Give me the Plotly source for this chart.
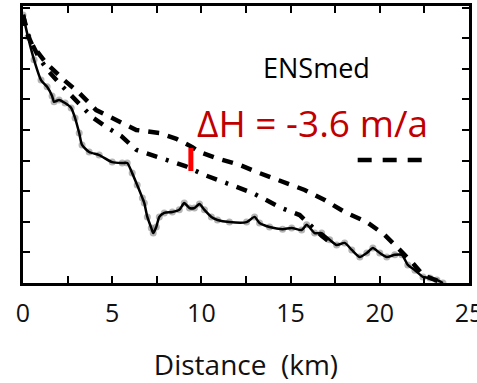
import plotly.graph_objects as go

# Surface profiles along the flowline: distance (km) vs. elevation (axis units)
obs_km = [0.0, 0.28, 0.62, 1.01, 1.35, 1.63, 1.74, 2.02, 2.36, 2.70, 2.92, 3.15, 3.31, 3.71,
          4.27, 5.0, 5.56, 5.84, 6.12, 6.40, 6.69, 6.80, 6.97, 7.19, 7.30, 7.47, 7.64, 7.92,
          8.37, 8.76, 9.04, 9.33, 9.61, 9.89, 10.17, 10.56, 10.90, 11.57, 12.53, 12.98, 13.26,
          13.82, 14.55, 15.06, 15.62, 15.90, 16.35, 16.74, 17.19, 17.58, 18.03, 18.43, 18.88,
          19.27, 19.61, 20.0, 20.39, 20.84, 21.24, 21.57, 21.97, 22.42, 22.81, 23.20, 23.54]
obs_h = [8.76, 8.04, 7.29, 6.63, 6.41, 6.11, 5.92, 5.98, 5.88, 5.72, 5.39, 4.90, 4.51, 4.28,
         4.18, 3.95, 3.92, 3.92, 3.59, 3.20, 2.78, 2.61, 2.16, 1.80, 1.63, 1.83, 2.16, 2.29,
         2.32, 2.39, 2.61, 2.45, 2.45, 2.58, 2.39, 2.16, 2.06, 1.99, 1.99, 2.16, 1.96,
         1.83, 1.76, 1.80, 1.73, 1.90, 1.63, 1.63, 1.41, 1.24, 1.31, 1.08, 0.85,
         0.98, 1.14, 0.98, 0.85, 0.92, 0.92, 0.59, 0.42, 0.20, 0.16, 0.10, 0.0]

ens_km = [0.0, 0.22, 0.51, 1.29, 2.30, 3.15, 4.10, 5.22, 6.35, 7.64, 8.60, 9.49, 9.89,
          10.84, 12.13, 13.26, 14.55, 15.79, 16.91, 18.03, 19.27, 20.28, 21.12, 21.85,
          22.42, 23.20, 23.54]
ens_h = [8.76, 8.17, 7.78, 7.19, 6.63, 6.21, 5.65, 5.33, 5.0, 4.90, 4.71, 4.44, 4.28,
         4.08, 3.86, 3.59, 3.30, 3.04, 2.71, 2.32, 1.99, 1.57, 1.08, 0.65,
         0.26, 0.10, 0.0]

alt_km = [0.0, 0.34, 0.90, 1.46, 2.13, 2.70, 3.26, 3.88, 4.66, 5.51, 6.35, 7.25, 8.20,
          9.10, 10.17, 11.01, 11.97, 12.87, 13.65, 14.49, 15.51, 15.96, 16.35, 16.74, 17.19]
alt_h = [8.76, 8.01, 7.35, 6.90, 6.47, 6.14, 5.82, 5.42, 5.10, 4.80, 4.35, 4.18, 4.02,
         3.82, 3.53, 3.33, 3.14, 2.94, 2.71, 2.45, 2.22, 1.96, 1.73, 1.54, 1.34]

x_ticks = [0, 2.5, 5, 7.5, 10, 12.5, 15, 17.5, 20, 22.5, 25]
x_labels = ["0", "", "5", "", "10", "", "15", "", "20", "", "25"]

# Elevation-change marker and key
dh_km = 9.41
dh_range = [3.66, 4.41]
key_km = [18.76, 22.36]
key_h = 4.02

fig = go.Figure()
# grey sample points sit beneath the black observed line
fig.add_trace(go.Scatter(x=obs_km, y=obs_h, mode="markers",
                         marker=dict(color="rgba(120,120,120,0.55)", size=7)))
fig.add_trace(go.Scatter(x=alt_km, y=alt_h, mode="lines",
                         line=dict(color="black", width=4.5, dash="11px,9px,3px,9px")))
fig.add_trace(go.Scatter(x=ens_km, y=ens_h, mode="lines",
                         line=dict(color="black", width=4.5, dash="11px,9px")))
fig.add_trace(go.Scatter(x=obs_km, y=obs_h, mode="lines",
                         line=dict(color="black", width=2.5, shape="spline", smoothing=0.6)))

fig.add_shape(type="line", xref="x", yref="y", x0=dh_km, x1=dh_km,
              y0=dh_range[0], y1=dh_range[1], line=dict(color="#ff0000", width=5))
fig.add_shape(type="line", xref="x", yref="y", x0=key_km[0], x1=key_km[1],
              y0=key_h, y1=key_h, line=dict(color="black", width=4.5, dash="14px,11px"))

fig.add_annotation(x=16.46, y=7.03, xref="x", yref="y", text="ENSmed", showarrow=False,
                   font=dict(family="Open Sans", size=27, color="black"))
fig.add_annotation(x=16.2, y=5.26, xref="x", yref="y", text="ΔH = -3.6 m/a", showarrow=False,
                   font=dict(family="Open Sans", size=37, color="#c00000"))

fig.update_layout(
    width=477, height=383,
    margin=dict(l=23, r=8, t=6, b=100),
    paper_bgcolor="white", plot_bgcolor="white",
    showlegend=False,
    font=dict(family="Open Sans", color="#111111"),
)
fig.update_xaxes(range=[0, 25], tickvals=x_ticks, ticktext=x_labels, automargin=False,
                 ticks="inside", ticklen=7, tickwidth=2, tickcolor="black",
                 showline=True, linecolor="black", linewidth=2.5, mirror="ticks",
                 showgrid=False, zeroline=False, tickfont=dict(size=25),
                 ticklabelstandoff=6, ticklabeloverflow="allow",
                 title=dict(text="Distance  (km)", font=dict(size=28), standoff=31))
fig.update_yaxes(range=[0, 9.05], dtick=1, tick0=0, showticklabels=False, automargin=False,
                 ticks="inside", ticklen=7, tickwidth=2, tickcolor="black",
                 showline=True, linecolor="black", linewidth=2.5, mirror="ticks",
                 showgrid=False, zeroline=False)

fig.write_html("out.html")
